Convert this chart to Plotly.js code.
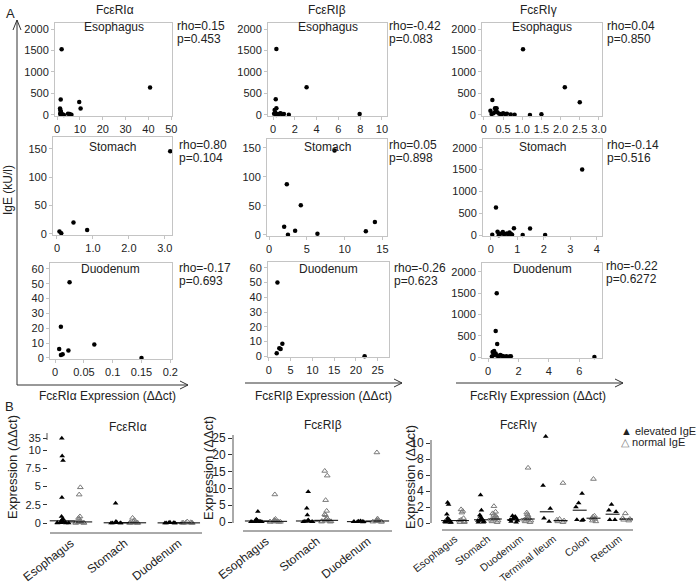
<!DOCTYPE html>
<html>
<head>
<meta charset="utf-8">
<script src="https://cdn.plot.ly/plotly-3.0.1.min.js"></script>
<style>
  html, body { margin: 0; padding: 0; background: #fff; }
  #chart { width: 697px; height: 583px; }
</style>
</head>
<body>
<div id="chart"></div>
<script>
// ---- panel A: IgE vs expression (scatter) ----
const aEsoX = [2, 1.6, 9.7, 10.3, 40.7, 1.3, 1.5, 1.7, 1.4, 2, 1.5, 2.5, 4.8, 5.5, 6.3, 3];
const aEsoY = [1530, 360, 300, 150, 640, 150, 110, 70, 40, 20, 5, 10, 30, 20, 5, 0];
const bEsoX = [0.31, 0.25, 0.31, 0.15, 3.08, 7.95, 0.1, 0.2, 0.4, 0.5, 0.7, 0.9, 1.0, 1.45, 0.3, 0.6];
const bEsoY = [1535, 365, 155, 116, 645, 20, 30, 50, 20, 10, 40, 5, 20, 5, 0, 30];
const gEsoX = [1.02, 2.11, 2.5, 0.22, 0.17, 0.29, 0.33, 1.2, 1.5, 0.2, 0.25, 0.35, 0.4, 0.45, 0.5, 0.55, 0.6, 0.7, 0.8, 0.3];
const gEsoY = [1528, 645, 295, 350, 100, 155, 155, 0, 15, 20, 40, 60, 30, 10, 40, 20, 30, 10, 5, 80];

const aStoX = [3.15, 0.46, 0.84, 0.07, 0.12];
const aStoY = [146, 20, 7, 4, 1];
const bStoX = [8.66, 2.35, 4.2, 2.0, 2.5, 3.45, 6.4, 12.8, 14.0];
const bStoY = [145, 87, 51, 14, 0, 7, 2, 6, 22];
const gStoX = [3.45, 0.19, 0.87, 1.48, 0.05, 0.25, 0.3, 0.45, 0.5, 0.6, 0.7, 0.75, 0.8, 0.3, 1.2, 2.05, 0.4, 0.65];
const gStoY = [1500, 630, 160, 150, 10, 80, 30, 70, 20, 40, 60, 30, 10, 0, 5, 5, 40, 20];

const aDuoX = [0.025, 0.0099, 0.007, 0.010, 0.013, 0.023, 0.068, 0.15];
const aDuoY = [51, 21, 6, 2, 2.5, 5, 9, 0];
const bDuoX = [1.97, 3.1, 2.4, 2.7, 1.8, 22];
const bDuoY = [50, 8.5, 5.4, 5, 2, 0];
const gDuoX = [0.57, 0.5, 0.6, 0.3, 0.4, 0.5, 0.35, 0.6, 0.7, 0.8, 0.9, 1.0, 1.2, 1.4, 1.5, 0.45, 0.25, 7.0];
const gDuoY = [1500, 610, 305, 120, 140, 80, 40, 30, 10, 50, 30, 20, 20, 10, 20, 60, 10, 0];

const rhoText = ["rho=0.15", "rho=-0.42", "rho=0.04",
                 "rho=0.80", "rho=0.05", "rho=-0.14",
                 "rho=-0.17", "rho=-0.26", "rho=-0.22"];
const pText = ["p=0.453", "p=0.083", "p=0.850",
               "p=0.104", "p=0.898", "p=0.516",
               "p=0.693", "p=0.623", "p=0.6272"];
const tissuesA = ["Esophagus", "Stomach", "Duodenum"];
const receptors = ["FcεRIα", "FcεRIβ", "FcεRIγ"];

// ---- panel B: expression by tissue (strip plots) ----
const catsB3 = ["Esophagus", "Stomach", "Duodenum"];
const catsB6 = ["Esophagus", "Stomach", "Duodenum", "Terminal Ileum", "Colon", "Rectum"];

const alphaElev = [
  [35, 9.2, 8.6, 3.5, 0.9, 0.6, 0.4, 0.3, 0.2, 0.2, 0.1, 0.1, 0.1, 0.05, 0.05, 0.02, 0.02, 0.01],
  [2.7, 0.2, 0.1, 0.05, 0.05, 0.03, 0.02, 0.01, 0.01, 0.01],
  [0.1, 0.05, 0.03, 0.02, 0.01, 0.01, 0.005],
];
const alphaNorm = [
  [4.9, 3.9, 0.9, 0.7, 0.5, 0.3, 0.2, 0.1, 0.1, 0.05, 0.05, 0.02, 0.01],
  [0.7, 0.4, 0.2, 0.1, 0.05, 0.03, 0.02, 0.01, 0.01],
  [0.2, 0.1, 0.05, 0.03, 0.02, 0.01, 0.01],
];
const alphaMedElev = [0.3, 0.03, 0.02];
const alphaMedNorm = [0.15, 0.03, 0.02];

const betaElev = [
  [3.1, 0.8, 0.5, 0.4, 0.3, 0.3, 0.2, 0.2, 0.1, 0.1, 0.1, 0.05, 0.05],
  [9.0, 4.1, 2.1, 0.6, 0.4, 0.3, 0.2, 0.2, 0.1, 0.1, 0.05],
  [0.3, 0.2, 0.15, 0.1, 0.1, 0.05, 0.05, 0.02],
];
const betaNorm = [
  [8.2, 0.9, 0.6, 0.4, 0.3, 0.2, 0.2, 0.1, 0.1, 0.05, 0.05, 0.02],
  [15.2, 13.8, 6.5, 3.3, 2.3, 2.0, 1.2, 0.8, 0.6, 0.4, 0.3, 0.2, 0.1, 0.1],
  [20.7, 1.0, 0.6, 0.4, 0.3, 0.2, 0.1, 0.1, 0.05],
];
const betaMedElev = [0.3, 0.3, 0.1];
const betaMedNorm = [0.2, 0.5, 0.3];

const gammaElev = [
  [2.3, 2.55, 1.1, 0.6, 0.5, 0.4, 0.3, 0.2, 0.2, 0.1, 0.1, 0.05],
  [3.5, 1.6, 1.0, 0.8, 0.6, 0.5, 0.4, 0.3, 0.3, 0.2, 0.1, 0.1],
  [0.9, 0.8, 0.7, 0.6, 0.5, 0.4, 0.3, 0.2, 0.1],
  [10.8, 4.7, 1.8, 0.6, 0.2],
  [3.7, 2.5, 2.0, 0.4, 0.4, 0.3],
  [2.3, 1.6, 1.4, 0.4, 0.4],
];
const gammaNorm = [
  [1.5, 1.3, 1.7, 0.6, 0.4, 0.3, 0.2, 0.1, 0.1],
  [2.1, 1.4, 1.2, 1.0, 0.9, 0.7, 0.6, 0.5, 0.4, 0.3, 0.2, 0.1],
  [6.9, 1.3, 1.1, 0.9, 0.8, 0.6, 0.5, 0.4, 0.3, 0.2, 0.1],
  [5.0, 0.5, 0.4, 0.3, 0.2, 0.1],
  [5.5, 0.9, 0.8, 0.6, 0.5, 0.3, 0.2],
  [1.2, 0.6, 0.5, 0.4, 0.3],
];
const gammaMedElev = [0.3, 0.4, 0.4, 1.4, 1.6, 1.1];
const gammaMedNorm = [0.3, 0.5, 0.5, 0.3, 0.6, 0.5];

// alpha axis is broken above 10: values over the break sit at the "35" tick
const alphaBreak = 10;
const alphaBrokenPos = 11.64;

// ---- geometry helpers (pixels -> paper) ----
const W = 697, H = 583;
const px = (x) => x / W;
const py = (y) => 1 - y / H;
const xdom = (l, r) => [l / W, r / W];
const ydom = (t, b) => [1 - b / H, 1 - t / H];

const FONT = "Liberation Sans, Arial, sans-serif";
const traces = [];
const layout = {
  width: W,
  height: H,
  margin: { l: 0, r: 0, t: 0, b: 0 },
  paper_bgcolor: "#fff",
  plot_bgcolor: "rgba(0,0,0,0)",
  showlegend: false,
  hovermode: false,
  font: { family: FONT, color: "#222", size: 11 },
  annotations: [],
  shapes: [],
};

function ann(x, y, text, opts) {
  layout.annotations.push(Object.assign({
    xref: "paper", yref: "paper", x: px(x), y: py(y), text: text,
    showarrow: false, xanchor: "center", yanchor: "middle",
    font: { size: 12, color: "#222", family: FONT },
  }, opts || {}));
}
function line(x0, y0, x1, y1, color) {
  layout.shapes.push({
    type: "line", xref: "paper", yref: "paper",
    x0: px(x0), y0: py(y0), x1: px(x1), y1: py(y1),
    line: { color: color || "#333", width: 1 },
  });
}

// scatter panels
const panelsA = [
  { xs: aEsoX, ys: aEsoY, box: [55, 172, 23, 116], xr: [-0.9, 50.3], yr: [-25, 2140],
    xt: [0, 10, 20, 30, 40, 50], yt: [0, 500, 1000, 1500, 2000] },
  { xs: bEsoX, ys: bEsoY, box: [268, 387, 23, 116], xr: [-0.46, 10.46], yr: [-25, 2140],
    xt: [0, 2, 4, 6, 8, 10], yt: [0, 500, 1000, 1500, 2000] },
  { xs: gEsoX, ys: gEsoY, box: [482, 602, 23, 116], xr: [-0.05, 3.08], yr: [-25, 2140],
    xt: [0, 0.5, 1, 1.5, 2, 2.5, 3], xtt: ["0", "0.5", "1.0", "1.5", "2.0", "2.5", "3.0"],
    yt: [0, 500, 1000, 1500, 2000] },
  { xs: aStoX, ys: aStoY, box: [53, 172, 137, 235], xr: [-0.11, 3.2], yr: [-2, 171],
    xt: [0, 1, 2, 3], xtt: ["0", "1.0", "2.0", "3.0"], yt: [0, 50, 100, 150] },
  { xs: bStoX, ys: bStoY, box: [267, 387, 139, 236], xr: [-0.27, 15.6], yr: [-2, 165],
    xt: [0, 5, 10, 15], yt: [0, 50, 100, 150] },
  { xs: gStoX, ys: gStoY, box: [483, 602, 139, 236], xr: [-0.3, 4.2], yr: [-20, 2200],
    xt: [0, 1, 2, 3, 4], yt: [0, 500, 1000, 1500, 2000] },
  { xs: aDuoX, ys: aDuoY, box: [50, 172, 263, 359], xr: [-0.009, 0.203], yr: [-0.7, 64],
    xt: [0, 0.05, 0.1, 0.15, 0.2], xtt: ["0", "0.05", "0.1", "0.15", "0.2"],
    yt: [0, 10, 20, 30, 40, 50, 60] },
  { xs: bDuoX, ys: bDuoY, box: [268, 389, 262, 357], xr: [-0.2, 27.6], yr: [-0.5, 64],
    xt: [0, 5, 10, 15, 20, 25], yt: [0, 10, 20, 30, 40, 50, 60] },
  { xs: gDuoX, ys: gDuoY, box: [482, 602, 263, 358], xr: [-0.4, 7.5], yr: [-23, 2210],
    xt: [0, 2, 4, 6], yt: [0, 500, 1000, 1500, 2000] },
];
const rhoPos = [[175, 26], [387, 26], [605, 26],
                [177, 145], [387, 145], [605, 145],
                [177, 268], [392, 268], [604, 266]];

panelsA.forEach((p, i) => {
  const n = i + 1;
  const xa = "xaxis" + n, ya = "yaxis" + n;
  const common = {
    showline: true, mirror: true, linecolor: "#c4c4c4", linewidth: 1,
    ticks: "outside", ticklen: 3, tickcolor: "#c4c4c4",
    showgrid: false, zeroline: false, fixedrange: true,
    tickfont: { size: 11, color: "#222" },
  };
  layout[xa] = Object.assign({}, common, {
    domain: xdom(p.box[0], p.box[1]), range: p.xr, anchor: "y" + n,
    tickmode: "array", tickvals: p.xt, ticktext: p.xtt || p.xt.map(String),
  });
  layout[ya] = Object.assign({}, common, {
    domain: ydom(p.box[2], p.box[3]), range: p.yr, anchor: "x" + n,
    tickmode: "array", tickvals: p.yt, ticktext: p.yt.map(String),
  });
  traces.push({
    type: "scatter", mode: "markers", x: p.xs, y: p.ys,
    xaxis: "x" + n, yaxis: "y" + n,
    marker: { size: 4.5, color: "#000" }, cliponaxis: false,
  });
  const row = Math.floor(i / 3);
  const cx = (p.box[0] + p.box[1]) / 2;
  const ty = [27, 147, 269][row];
  ann(cx, ty, tissuesA[row]);
  ann(rhoPos[i][0], rhoPos[i][1], rhoText[i], { xanchor: "left" });
  ann(rhoPos[i][0], rhoPos[i][1] + 13, pText[i], { xanchor: "left" });
});

// column titles and axis labels of panel A
ann(115, 10, receptors[0]);
ann(327, 10, receptors[1]);
ann(538, 10, receptors[2]);
ann(108, 396, receptors[0] + " Expression (ΔΔct)");
ann(323, 396, receptors[1] + " Expression (ΔΔct)");
ann(538, 396, receptors[2] + " Expression (ΔΔct)");
ann(8, 190, "IgE (kU/l)", { textangle: -90 });
ann(10, 14, "A", { font: { size: 13, color: "#222", family: FONT } });
ann(9, 406, "B", { font: { size: 13, color: "#222", family: FONT } });

// axis arrows of panel A
line(17, 385, 17, 20);
line(13, 30, 17, 20);
line(21, 30, 17, 20);
line(17, 385, 188, 385);
line(180, 381, 188, 385);
line(180, 389, 188, 385);
line(245, 383, 402, 383);
line(394, 379, 402, 383);
line(394, 387, 402, 383);
line(456, 383, 623, 383);
line(615, 379, 623, 383);
line(615, 387, 623, 383);

// strip panels
const panelsB = [
  { cats: catsB3, elev: alphaElev, norm: alphaNorm, medE: alphaMedElev, medN: alphaMedNorm,
    xd: [48, 202], yd: [432, 533], xr: [-0.426, 2.43], yr: [-1.37, 12.5],
    yt: [0, 2.5, 5, 7.5, 10, alphaBrokenPos], ytt: ["0", "2.5", "5", "7.5", "10", "35"],
    off: 0.16, w: 0.34, med: 18, broken: true, cf: 12 },
  { cats: catsB3, elev: betaElev, norm: betaNorm, medE: betaMedElev, medN: betaMedNorm,
    xd: [233, 392], yd: [433, 531], xr: [-0.647, 2.47], yr: [-2.68, 26.5],
    yt: [0, 5, 10, 15, 20, 25], off: 0.18, w: 0.34, med: 17, cf: 12 },
  { cats: catsB6, elev: gammaElev, norm: gammaNorm, medE: gammaMedElev, medN: gammaMedNorm,
    xd: [431, 633], yd: [433, 530], xr: [-0.73, 5.41], yr: [-0.875, 11.25],
    yt: [0, 2, 4, 6, 8, 10], off: 0.21, w: 0.3, med: 10, cf: 10.5 },
];

const mapY = (p, v) => (p.broken && v > alphaBreak ? alphaBrokenPos : v);

panelsB.forEach((p, k) => {
  const n = 10 + k;
  layout["xaxis" + n] = {
    domain: xdom(p.xd[0], p.xd[1]), range: p.xr, anchor: "y" + n,
    showline: false, showgrid: false, zeroline: false, fixedrange: true,
    tickmode: "array", tickvals: p.cats.map((c, i) => i), ticktext: p.cats,
    tickangle: -38, ticks: "", tickfont: { size: p.cf, color: "#222" },
  };
  layout["yaxis" + n] = {
    domain: ydom(p.yd[0], p.yd[1]), range: p.yr, anchor: "x" + n,
    showline: false, showgrid: false, zeroline: false, fixedrange: true,
    tickmode: "array", tickvals: p.yt, ticktext: p.ytt || p.yt.map(String),
    ticks: "outside", ticklen: 4, tickcolor: "#333",
    tickfont: { size: 12, color: "#222" },
  };
  p.cats.forEach((c, i) => {
    [[p.elev[i], -p.off, false], [p.norm[i], p.off, true]].forEach(([vals, dx, open]) => {
      traces.push({
        type: "box", y: vals.map((v) => mapY(p, v)), x0: i + dx, width: p.w,
        boxpoints: "all", jitter: 0.9, pointpos: 0,
        line: { width: 0 }, fillcolor: "rgba(0,0,0,0)",
        marker: open
          ? { symbol: "triangle-up-open", size: 5, color: "#7a7a7a", line: { width: 1, color: "#7a7a7a" } }
          : { symbol: "triangle-up", size: 5, color: "#000", line: { width: 0 } },
        xaxis: "x" + n, yaxis: "y" + n,
      });
    });
  });
  traces.push({
    type: "scatter", mode: "markers",
    x: p.cats.map((c, i) => i - p.off).concat(p.cats.map((c, i) => i + p.off)),
    y: p.medE.concat(p.medN),
    marker: { symbol: "line-ew", size: p.med, line: { width: 1, color: "#000" } },
    xaxis: "x" + n, yaxis: "y" + n,
  });
});
// the "35" tick label sits tight over "10", as in the source figure
layout.yaxis10.tickfont = { size: 11, color: "#222" };

// axis lines of panel B
line(50, 533, 202, 533, "#555");
line(47, 433, 47, 440, "#555");
line(233, 435, 233, 523, "#555");
line(243, 531, 392, 531, "#555");
line(431, 440, 431, 523, "#555");
line(442, 530, 633, 530, "#555");

ann(128, 427, receptors[0]);
ann(323, 425, receptors[1]);
ann(518, 425, receptors[2]);
const yTitleFont = { size: 13, color: "#222", family: FONT };
ann(12, 467, "Expression (ΔΔct)", { textangle: -90, font: yTitleFont });
ann(208, 468, "Expression (ΔΔct)", { textangle: -90, font: yTitleFont });
ann(410, 477, "Expression (ΔΔct)", { textangle: -90, font: yTitleFont });

// legend of panel B
ann(619, 431, "▲ elevated IgE", { xanchor: "left", font: { size: 11, color: "#222", family: FONT } });
ann(619, 442, "<span style='color:#7a7a7a'>△</span> normal IgE", { xanchor: "left", font: { size: 11, color: "#222", family: FONT } });

Plotly.newPlot("chart", traces, layout, { staticPlot: true, displayModeBar: false });
</script>
</body>
</html>
